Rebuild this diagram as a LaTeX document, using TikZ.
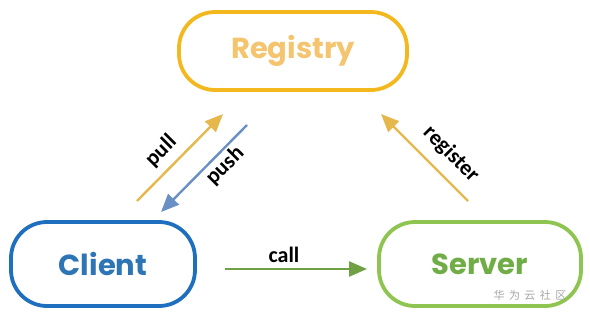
\documentclass[tikz,border=0pt]{standalone}
\usepackage{fontspec}
\newfontfamily\boxfont{Poppins}
\newfontfamily\labelfont{Carlito}
\newfontfamily\cjkfont[LetterSpace=40]{Noto Sans CJK SC}
\usetikzlibrary{arrows.meta,positioning}

\definecolor{regline}{HTML}{F2B81E}
\definecolor{regtext}{HTML}{F4C46E}
\definecolor{cliline}{HTML}{1F6FBF}
\definecolor{clitext}{HTML}{2E75B6}
\definecolor{srvline}{HTML}{8DC550}
\definecolor{srvtext}{HTML}{70AD47}
\definecolor{pullcol}{HTML}{E6B84C}
\definecolor{pushcol}{HTML}{6A8FC4}
\definecolor{callcol}{HTML}{70A044}

\begin{document}
\begin{tikzpicture}[x=1pt,y=-1pt,>={Triangle[length=18pt,width=15pt]},
  box/.style={draw,line width=3.8pt,rounded corners=36pt,inner sep=0pt,
    font=\boxfont\bfseries\fontsize{29}{34}\selectfont},
  flow/.style={->,line width=2.4pt},
  lbl/.style={font=\labelfont\bfseries\fontsize{22}{24}\selectfont}]
  \useasboundingbox (0,0) rectangle (590,319);

  % boxes
  \node (reg) [box,draw=regline,text=regtext,minimum width=228pt,minimum height=78pt] at (293,51) {Registry};
  \node (cli) [box,draw=cliline,text=clitext,minimum width=184pt,minimum height=84pt] at (103,264) {Client};
  \node (srv) [box,draw=srvline,text=srvtext,minimum width=202pt,minimum height=84pt] at (480,264) {Server};
  \node (wm) [text=gray!70,font=\cjkfont\fontsize{11}{12}\selectfont] at (530,295) {华为云社区};

  % arrow ends
  \coordinate (pullA) at (137,201);
  \coordinate (pullB) at (223,114);
  \coordinate (pushA) at (247,125);
  \coordinate (pushB) at (161,212);
  \coordinate (regA) at (468,201);
  \coordinate (regB) at (381,114);
  \coordinate (callA) at (225,269);
  \coordinate (callB) at (367,269);

  \draw[flow,pullcol] (pullA) -- (pullB);
  \draw[flow,pushcol] (pushA) -- (pushB);
  \draw[flow,pullcol] (regA) -- (regB);
  \draw[flow,callcol] (callA) -- (callB);

  \node (pull) [lbl,rotate=45] at (161,151) {pull};
  \node (push) [lbl,rotate=45] at (225,166) {push};
  \node (regl) [lbl,rotate=-45] at (451,154) {register};
  \node (call) [lbl] at (284,255) {call};
\end{tikzpicture}
\end{document}
